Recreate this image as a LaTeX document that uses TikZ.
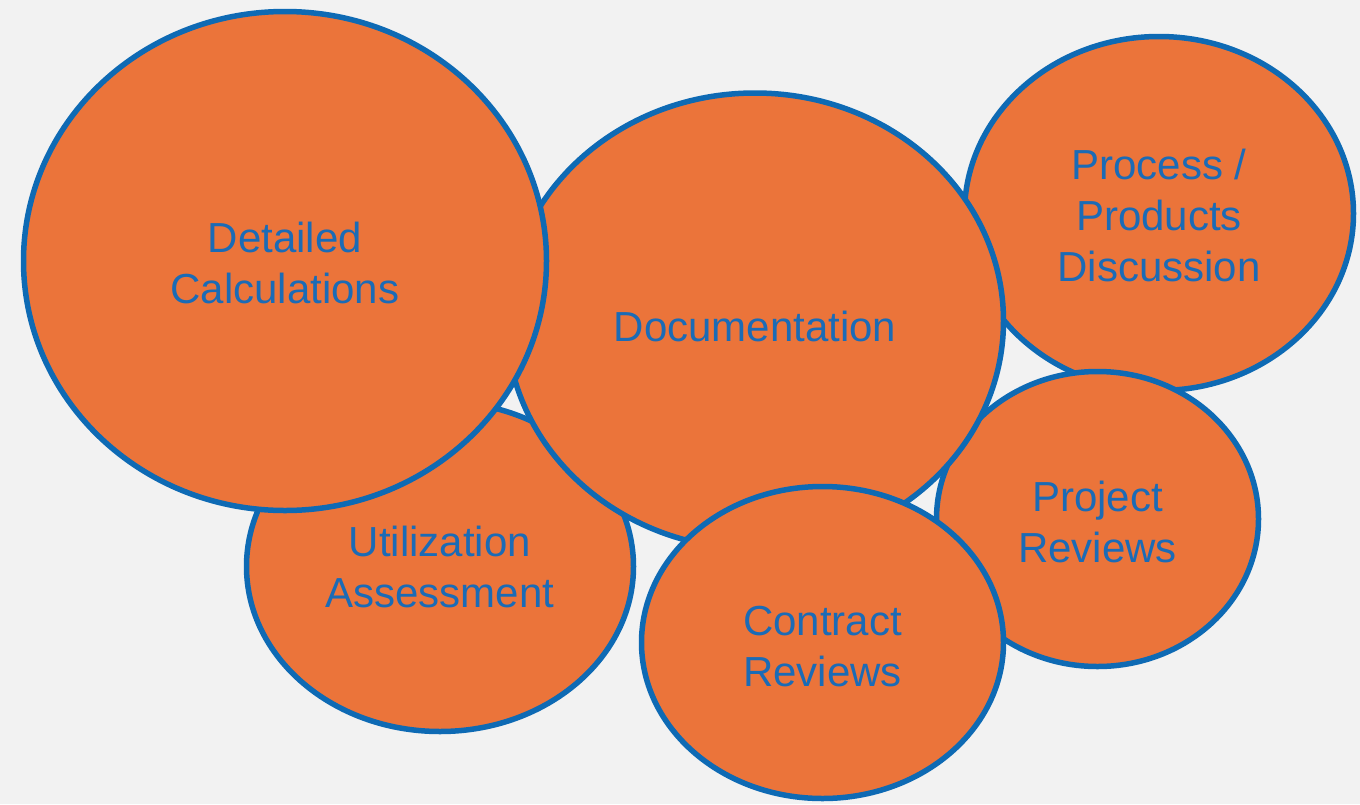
\documentclass[tikz,border=0pt]{standalone}
\usepackage{fontspec}
\setmainfont{Liberation Sans}
\usetikzlibrary{shapes.geometric}
\definecolor{bg}{HTML}{F2F2F2}
\definecolor{bubblefill}{HTML}{EB743A}
\definecolor{bubbleline}{HTML}{0E6AB4}
\definecolor{bubbletext}{HTML}{1B6BB6}
\tikzset{
  bubble/.style={ellipse, draw=bubbleline, fill=bubblefill, line width=5.5pt,
    inner sep=0pt},
  bubblelabel/.style={inner sep=0pt, text=bubbletext, align=center,
    font=\fontsize{42}{51}\selectfont}
}
\begin{document}
\begin{tikzpicture}[x=1pt,y=-1pt]
\fill[bg] (0,0) rectangle (1360,804);
\useasboundingbox (0,0) rectangle (1360,804);
\node[bubble, minimum width=387pt, minimum height=330pt] (util) at (440,566.5) {};
\node[bubblelabel] (utilT) at ([yshift=0pt]util.center) {Utilization\\Assessment};
\node[bubble, minimum width=389pt, minimum height=354pt] (proc) at (1159,213.5) {};
\node[bubblelabel] (procT) at ([yshift=-2pt]proc.center) {Process /\\Products\\Discussion};
\node[bubble, minimum width=322pt, minimum height=295pt] (proj) at (1097.5,519) {};
\node[bubblelabel] (projT) at ([yshift=-2.5pt]proj.center) {Project\\Reviews};
\node[bubble, minimum width=497pt, minimum height=456pt] (doc) at (755,321) {};
\node[bubblelabel] (docT) at ([yshift=-5.5pt]doc.center) {Documentation};
\node[bubble, minimum width=523pt, minimum height=499pt] (calc) at (285,261) {};
\node[bubblelabel] (calcT) at ([yshift=-2pt]calc.center) {Detailed\\Calculations};
\node[bubble, minimum width=362pt, minimum height=312pt] (contract) at (822.5,642.5) {};
\node[bubblelabel] (contractT) at ([yshift=-4pt]contract.center) {Contract\\Reviews};
\end{tikzpicture}
\end{document}
